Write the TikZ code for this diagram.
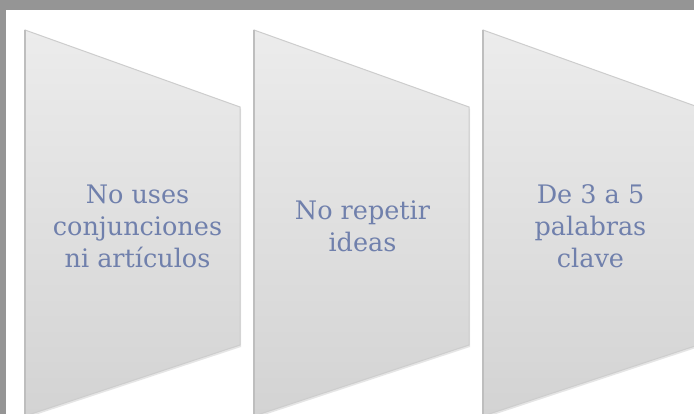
\documentclass[tikz,border=0pt]{standalone}
\usepackage{fontspec}
\setmainfont{DejaVu Serif}
\usetikzlibrary{shadows,calc}

\definecolor{framegray}{RGB}{149,149,149}
\definecolor{paneltop}{RGB}{236,236,236}
\definecolor{panelbot}{RGB}{211,211,211}
\definecolor{paneledge}{RGB}{205,205,205}
\definecolor{panelside}{RGB}{190,190,190}
\definecolor{textblue}{RGB}{112,128,172}

\tikzset{
  panel/.style={draw=paneledge, line width=1pt, top color=paneltop, bottom color=panelbot,
    drop shadow={shadow xshift=1pt, shadow yshift=-2pt, opacity=0.2}},
  panelside/.style={draw=panelside, line width=2.5pt},
  paneltext/.style={text=textblue, align=center, font=\fontsize{25.5}{32}\selectfont}
}

\begin{document}
\begin{tikzpicture}[x=1pt, y=-1pt]

\def\w{215};
\def\g{229};
\def\xa{25};
\def\ytop{30};
\def\ymid{107};
\def\ylow{345};
\def\ybot{416};

\useasboundingbox (0,0) rectangle (694,414);
\fill[framegray] (0,0) rectangle (694,414);
\fill[white] (6,10) rectangle (694,414);

% panel 1
\path[panel] (\xa,\ytop) -- (\xa+\w,\ymid) -- (\xa+\w,\ylow) -- (\xa,\ybot) -- cycle;
\draw[panelside] (\xa,\ytop) -- (\xa,\ybot);
\node[paneltext] (conj) at (\xa+\w*0.5+5, 226) {No uses\\conjunciones\\ni artículos};

% panel 2
\path[panel] (\xa+\g,\ytop) -- (\xa+\g+\w,\ymid) -- (\xa+\g+\w,\ylow) -- (\xa+\g,\ybot) -- cycle;
\draw[panelside] (\xa+\g,\ytop) -- (\xa+\g,\ybot);
\node[paneltext] (ideas) at (\xa+\g+\w*0.5+1, 226) {No repetir\\ideas};

% panel 3
\path[panel] (\xa+\g+\g,\ytop) -- (\xa+\g+\g+\w,\ymid) -- (\xa+\g+\g+\w,\ylow) -- (\xa+\g+\g,\ybot) -- cycle;
\draw[panelside] (\xa+\g+\g,\ytop) -- (\xa+\g+\g,\ybot);
\node[paneltext] (clave) at (\xa+\g+\g+\w*0.5, 226) {De 3 a 5\\palabras\\clave};

\end{tikzpicture}
\end{document}
